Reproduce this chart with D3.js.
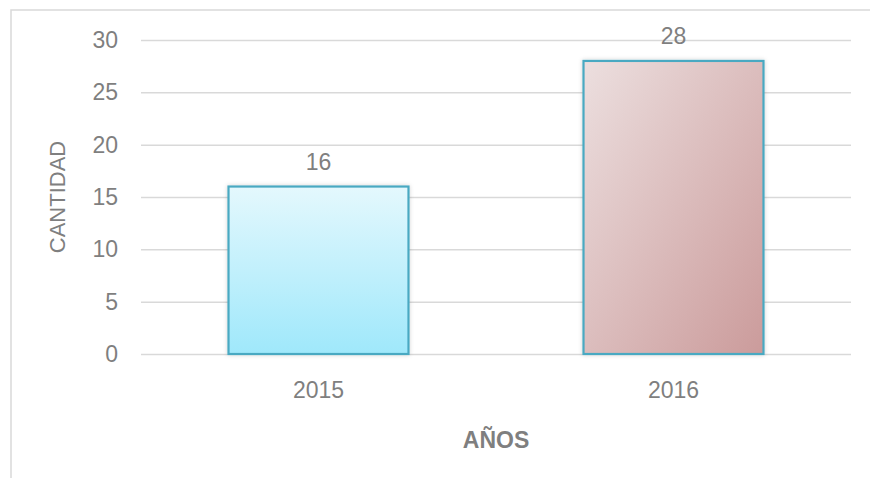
<!DOCTYPE html>
<html>
<head>
<meta charset="utf-8">
<script src="https://cdn.jsdelivr.net/npm/d3@7"></script>
<style>
  html, body { margin: 0; padding: 0; background: #fff; }
  svg { display: block; }
  text { font-family: "Liberation Sans", Arial, sans-serif; fill: #7f7f7f; }
</style>
</head>
<body>
<svg id="chart" width="870" height="478"></svg>
<script>
const categories = ["2015", "2016"];
const values = [16, 28];
const yTicks = [0, 5, 10, 15, 20, 25, 30];
const yTitle = "CANTIDAD";
const xTitle = "AÑOS";

const svg = d3.select("#chart");
const W = 870, H = 478;
const plot = { left: 141, right: 851, top: 40, bottom: 354 };

// outer chart border (extends past the image on right/bottom)
svg.append("rect")
  .attr("x", 11).attr("y", 10)
  .attr("width", W + 20).attr("height", H + 20)
  .attr("fill", "none").attr("stroke", "#d9d9d9").attr("stroke-width", 1.5);

const defs = svg.append("defs");
const g1 = defs.append("linearGradient").attr("id", "grad0")
  .attr("x1", 0).attr("y1", 0).attr("x2", 0).attr("y2", 1);
g1.append("stop").attr("offset", "0%").attr("stop-color", "#e4f8fd");
g1.append("stop").attr("offset", "100%").attr("stop-color", "#9fe8fb");
const g2 = defs.append("linearGradient").attr("id", "grad1")
  .attr("x1", 0).attr("y1", 0).attr("x2", 1).attr("y2", 1);
g2.append("stop").attr("offset", "0%").attr("stop-color", "#ecdfdf");
g2.append("stop").attr("offset", "100%").attr("stop-color", "#cb9b9b");
const f = defs.append("filter").attr("id", "shadow")
  .attr("x", "-10%").attr("y", "-10%").attr("width", "120%").attr("height", "120%");
f.append("feDropShadow").attr("dx", 0).attr("dy", 0).attr("stdDeviation", 2)
  .attr("flood-color", "#000").attr("flood-opacity", 0.18);

const x = d3.scaleBand().domain(categories)
  .range([plot.left, plot.right]).paddingInner(0.493).paddingOuter(0.2465);
const y = d3.scaleLinear().domain([0, 30]).range([plot.bottom, plot.top]);

// gridlines
const yAxis = d3.axisLeft(y).tickValues(yTicks)
  .tickSize(-(plot.right - plot.left)).tickPadding(23);
const ga = svg.append("g").attr("transform", `translate(${plot.left},0)`).call(yAxis);
ga.select(".domain").remove();
ga.selectAll(".tick line").attr("stroke", "#d9d9d9").attr("stroke-width", 1.5);
ga.selectAll(".tick text").attr("fill", "#7f7f7f").style("font-size", "23px")
  .attr("font-family", "Liberation Sans, Arial, sans-serif");

// bars
svg.append("g").selectAll("rect").data(values).join("rect")
  .attr("x", (d, i) => x(categories[i]))
  .attr("y", d => y(d))
  .attr("width", x.bandwidth())
  .attr("height", d => y(0) - y(d))
  .attr("fill", (d, i) => `url(#grad${i})`)
  .attr("stroke", "#4aa9c2").attr("stroke-width", 2.2)
  .attr("filter", "url(#shadow)");

// value labels
svg.append("g").selectAll("text").data(values).join("text")
  .attr("x", (d, i) => x(categories[i]) + x.bandwidth() / 2)
  .attr("y", d => y(d) - 17)
  .attr("text-anchor", "middle")
  .style("font-size", "23px")
  .text(d => d);

// x axis labels
const xAxis = d3.axisBottom(x).tickSize(0).tickPadding(28);
const gx = svg.append("g").attr("transform", `translate(0,${plot.bottom})`).call(xAxis);
gx.select(".domain").remove();
gx.selectAll(".tick text").attr("fill", "#7f7f7f").style("font-size", "23px")
  .attr("font-family", "Liberation Sans, Arial, sans-serif");

// axis titles
svg.append("text")
  .attr("transform", `translate(65,${(plot.top + plot.bottom) / 2}) rotate(-90)`)
  .attr("text-anchor", "middle")
  .style("font-size", "22px")
  .text(yTitle);
svg.append("text")
  .attr("x", (plot.left + plot.right) / 2).attr("y", 448)
  .attr("text-anchor", "middle")
  .style("font-size", "23px").style("font-weight", "bold")
  .text(xTitle);
</script>
</body>
</html>
